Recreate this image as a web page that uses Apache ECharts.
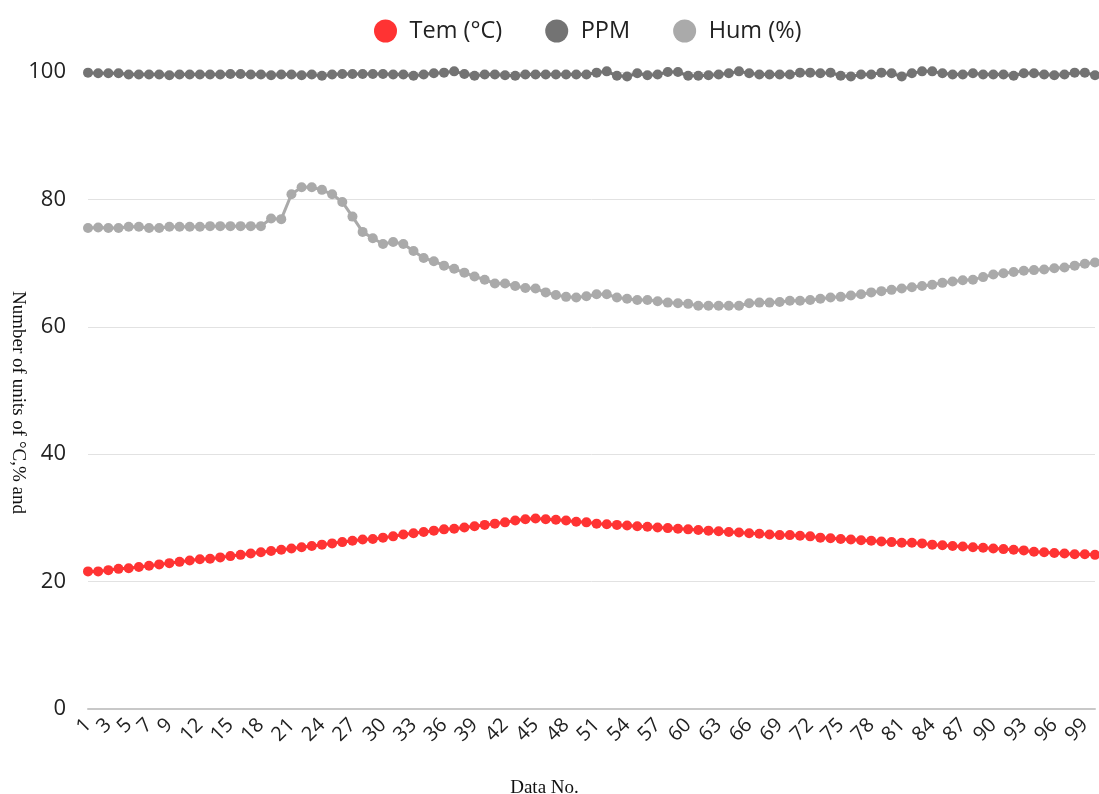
<!DOCTYPE html>
<html>
<head>
<meta charset="utf-8">
<script src="https://cdn.jsdelivr.net/npm/echarts@6/dist/echarts.min.js"></script>
<style>
html,body{margin:0;padding:0;background:#fff;}
#chart{width:1099px;height:794px;}
</style>
</head>
<body>
<div id="chart"></div>
<script>
var categories = [1,2,3,4,5,6,7,8,9,10,11,12,13,14,15,16,17,18,19,20,21,22,23,24,25,26,27,28,29,30,31,32,33,34,35,36,37,38,39,40,41,42,43,44,45,46,47,48,49,50,51,52,53,54,55,56,57,58,59,60,61,62,63,64,65,66,67,68,69,70,71,72,73,74,75,76,77,78,79,80,81,82,83,84,85,86,87,88,89,90,91,92,93,94,95,96,97,98,99,100];

var xTickLabels = [1,3,5,7,9,12,15,18,21,24,27,30,33,36,39,42,45,48,51,54,57,60,63,66,69,72,75,78,81,84,87,90,93,96,99];

var yTicks = [0,20,40,60,80,100];

var temValues = [21.6,21.6,21.8,22.0,22.1,22.3,22.5,22.7,22.9,23.1,23.3,23.5,23.6,23.8,24.0,24.2,24.4,24.6,24.8,25.0,25.2,25.4,25.6,25.8,26.0,26.2,26.4,26.6,26.7,26.9,27.1,27.4,27.6,27.8,28.0,28.2,28.3,28.5,28.7,28.9,29.1,29.3,29.6,29.8,29.9,29.8,29.7,
29.6,29.4,29.3,29.1,29.0,28.9,28.8,28.7,28.6,28.5,28.4,28.3,28.2,28.1,28.0,27.9,27.8,27.7,27.6,27.5,27.4,27.3,27.3,27.2,27.1,26.9,26.8,26.7,26.6,26.5,26.4,26.3,26.2,26.1,26.1,26.0,25.8,25.7,25.6,25.5,25.4,25.3,25.2,25.1,25.0,24.9,24.7,24.6,24.5,24.4,24.3,24.3,24.2];

var ppmValues = [99.9,99.8,99.8,99.8,99.6,99.6,99.6,99.6,99.5,99.6,
99.6,99.6,99.6,99.6,99.7,99.7,99.6,99.6,99.5,99.6,
99.6,99.5,99.6,99.4,99.6,99.7,99.7,99.7,99.7,99.7,
99.6,99.6,99.4,99.6,99.8,99.9,100.1,99.7,99.4,99.6,
99.6,99.5,99.4,99.6,99.6,99.6,99.6,99.6,99.6,99.6,
99.9,100.1,99.4,99.3,99.8,99.5,99.6,100.0,100.0,99.4,
99.4,99.5,99.6,99.8,100.1,99.8,99.6,99.6,99.6,99.6,
99.9,99.9,99.8,99.9,99.4,99.3,99.6,99.6,99.9,99.8,
99.3,99.8,100.1,100.1,99.8,99.6,99.6,99.8,99.6,99.6,
99.6,99.4,99.8,99.8,99.6,99.5,99.6,99.9,99.9,99.5];

var humValues = [75.5,75.6,75.5,75.5,75.7,75.7,75.5,75.5,75.7,75.7,75.7,75.7,75.8,75.8,75.8,75.8,75.8,75.8,77.0,76.9,
80.8,81.9,81.9,81.5,80.8,79.6,77.3,74.9,73.9,73.0,73.3,
73.0,71.9,70.8,70.3,69.6,69.1,68.5,67.9,67.4,66.8,66.8,66.4,66.1,66.0,65.4,65.0,64.7,64.6,64.8,65.1,65.1,64.6,64.4,64.2,64.2,
64.0,63.8,63.7,63.6,63.3,63.3,63.3,63.3,63.3,63.7,63.8,63.8,63.9,64.1,64.1,64.2,64.4,64.6,64.7,64.9,65.1,65.4,65.6,65.8,66.0,66.2,66.4,66.6,66.9,67.1,67.3,67.4,67.8,68.2,68.4,68.6,68.8,68.9,69.0,69.2,69.3,69.6,69.9,70.1];

var seriesNames = ['Tem (°C)','PPM','Hum (%)'];
var seriesColors = ['#ff3333','#737373','#aaaaaa'];
var seriesData = [temValues, ppmValues, humValues];

var chart = echarts.init(document.getElementById('chart'), null, {renderer:'canvas'});

var series = seriesNames.map(function(name, i){
  return {
    name: name,
    type: 'line',
    data: seriesData[i],
    symbol: 'circle',
    symbolSize: 10,
    showSymbol: true,
    showAllSymbol: true,
    clip: false,
    animation: false,
    lineStyle: {color: seriesColors[i], width: 3},
    itemStyle: {color: seriesColors[i]}
  };
});

chart.setOption({
  backgroundColor: '#fff',
  animation: false,
  color: seriesColors,
  legend: {
    top: 14,
    left: 369,
    icon: 'circle',
    itemWidth: 38,
    itemHeight: 23,
    itemGap: 43,
    textStyle: {fontFamily: 'Open Sans', fontSize: 23.5, color: '#222'},
    data: seriesNames
  },
  grid: {left: 88, right: 4, top: 72, bottom: 85, containLabel: false, outerBoundsMode: 'none'},
  xAxis: {
    type: 'category',
    data: categories,
    boundaryGap: false,
    name: 'Data No.',
    nameLocation: 'middle',
    nameGap: 70,
    nameMoveOverlap: false,
    nameTextStyle: {fontFamily: 'Liberation Serif', fontSize: 19, color: '#111', padding: [0, 94, 0, 0]},
    axisLine: {show: true, lineStyle: {color: '#c8c8c8', width: 2}},
    axisTick: {show: false},
    axisLabel: {
      rotate: 45,
      fontFamily: 'Open Sans',
      fontSize: 20,
      color: '#222',
      margin: 13,
      interval: function(index, value){ return xTickLabels.indexOf(Number(value)) >= 0; }
    },
    splitLine: {show: false}
  },
  yAxis: {
    type: 'value',
    min: yTicks[0],
    max: yTicks[yTicks.length-1],
    interval: 20,
    name: 'Number of units of °C,% and',
    nameLocation: 'middle',
    nameRotate: -90,
    nameGap: 61,
    nameMoveOverlap: false,
    nameTextStyle: {fontFamily: 'Liberation Serif', fontSize: 19, color: '#111', padding: [0, 0, 0, 24]},
    axisLine: {show: false},
    axisTick: {show: false},
    axisLabel: {fontFamily: 'Open Sans', fontSize: 22, color: '#222', margin: 22},
    splitLine: {show: true, lineStyle: {color: '#e2e2e2', width: 1}}
  },
  series: series
});
</script>
</body>
</html>
